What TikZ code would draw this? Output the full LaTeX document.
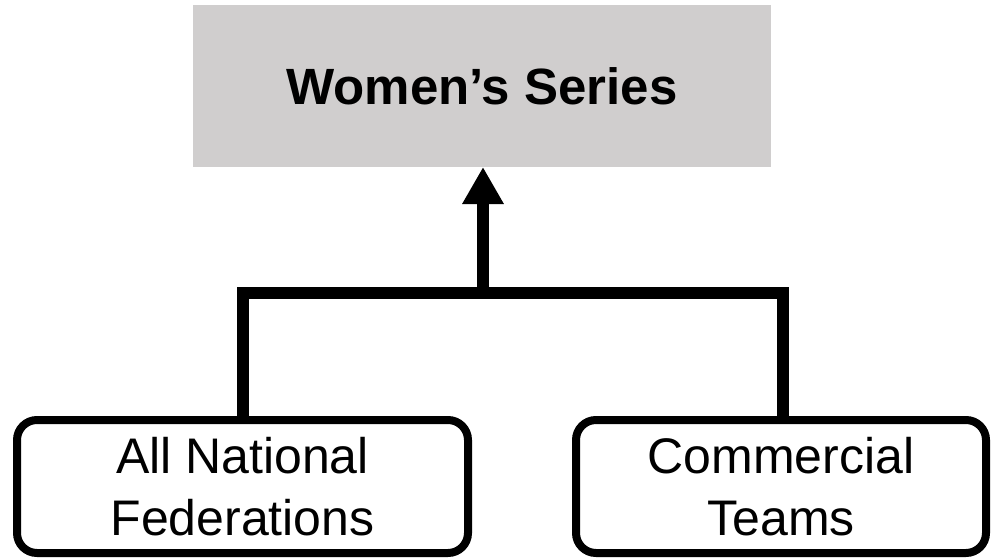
\documentclass[tikz,border=0pt]{standalone}
\usepackage{fontspec}
\setmainfont{Liberation Sans}
\usetikzlibrary{arrows.meta}
\definecolor{boxgray}{RGB}{208,206,206}
\begin{document}
\begin{tikzpicture}[x=1pt,y=-1pt,
  topbox/.style={fill=boxgray, draw=none, minimum width=578pt, minimum height=162pt, inner sep=0pt, outer sep=0pt, font=\fontsize{51}{61}\selectfont\bfseries},
  leaf/.style={draw, line width=8pt, rounded corners=20pt, inner sep=0pt, align=center, minimum height=133pt, font=\fontsize{50}{62}\selectfont},
  conn/.style={line width=12pt},
]
\useasboundingbox (0,0) rectangle (991,559);
\node[topbox] (w) at (482,86) {Women’s Series};
\node[leaf, minimum width=451pt] (a) at (242.5,486.5) {All National\\Federations};
\node[leaf, minimum width=410pt] (b) at (781,486.5) {Commercial\\Teams};
\coordinate (mid) at (483,293);
\draw[conn] (a.north) |- (mid) -| ([xshift=2pt]b.north);
\draw[conn, -{Triangle[length=37pt, width=39pt]}] (mid) -- (w.south -| mid);
\end{tikzpicture}
\end{document}
